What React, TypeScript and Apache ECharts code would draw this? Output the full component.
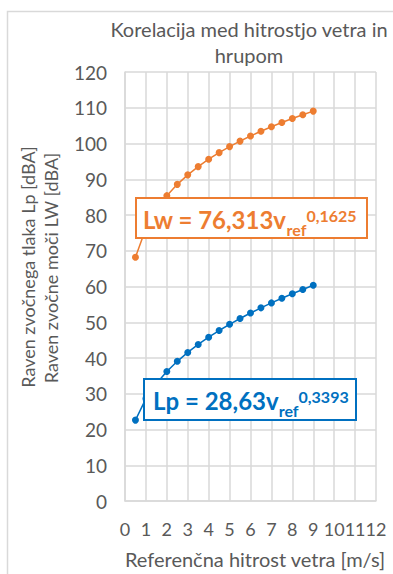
import React, { useEffect, useRef } from "react";
import * as echarts from "echarts";

// Reference wind speed [m/s]
const windSpeed = [0.5, 1, 1.5, 2, 2.5, 3, 3.5, 4, 4.5, 5, 5.5, 6, 6.5, 7, 7.5, 8, 8.5, 9];
// Sound power level Lw [dBA]
const soundPower = [
  68.18, 76.31, 81.51, 85.41, 88.57, 91.23, 93.54, 95.6, 97.44, 99.13, 100.67, 102.11,
  103.44, 104.7, 105.88, 106.99, 108.05, 109.06,
];
// Sound pressure level Lp [dBA]
const soundPressure = [
  22.63, 28.63, 32.85, 36.22, 39.07, 41.56, 43.79, 45.82, 47.69, 49.43, 51.05, 52.58,
  54.03, 55.41, 56.72, 57.98, 59.18, 60.34,
];

const titleText = "Korelacija med hitrostjo vetra in\nhrupom";
const xAxisTitle = "Referenčna hitrost vetra [m/s]";
const yAxisTitles = ["Raven zvočnega tlaka Lp [dBA]", "Raven zvočne moči LW [dBA]"];
const lwFormula = { main: "Lw = 76,313v", sub: "ref", sup: "0,1625" };
const lpFormula = { main: "Lp = 28,63v", sub: "ref", sup: "0,3393" };

const ORANGE = "#ED7D31";
const BLUE = "#0070C0";
const TEXT = "#595959";
const GRID = "#d9d9d9";
const FONT = "Lato, 'Open Sans', sans-serif";

function measure(text: string, font: string): number {
  const c = document.createElement("canvas").getContext("2d");
  if (!c) return text.length * 10;
  c.font = font;
  return c.measureText(text).width;
}

// Trendline equation label: framed box with subscript and superscript parts
function formulaBox(
  f: { main: string; sub: string; sup: string },
  color: string,
  box: { x: number; y: number; w: number; h: number },
  textX: number,
  mainY: number,
  subY: number,
  supY: number,
  supGap: number
) {
  const mainSize = 24;
  const smallSize = 16;
  const mainW = measure(f.main, `bold ${mainSize}px Lato`);
  const subW = measure(f.sub, `bold ${smallSize}px Lato`);
  const Z = 100;
  return [
    {
      type: "rect",
      z: Z,
      shape: { x: box.x, y: box.y, width: box.w, height: box.h },
      style: { fill: "#ffffff", stroke: color, lineWidth: 2 },
    },
    {
      type: "text",
      z: Z + 1,
      x: textX,
      y: mainY,
      style: {
        text: f.main,
        fill: color,
        font: `bold ${mainSize}px ${FONT}`,
        align: "left",
        verticalAlign: "middle",
      },
    },
    {
      type: "text",
      z: Z + 1,
      x: textX + mainW,
      y: subY,
      style: {
        text: f.sub,
        fill: color,
        font: `bold ${smallSize}px ${FONT}`,
        align: "left",
        verticalAlign: "middle",
      },
    },
    {
      type: "text",
      z: Z + 1,
      x: textX + mainW + subW + supGap,
      y: supY,
      style: {
        text: f.sup,
        fill: color,
        font: `bold ${smallSize}px ${FONT}`,
        align: "left",
        verticalAlign: "middle",
      },
    },
  ];
}

export default function App() {
  const ref = useRef<HTMLDivElement>(null);

  useEffect(() => {
    if (!ref.current) return;
    const chart = echarts.init(ref.current, undefined, { renderer: "svg" });

    const lwData = windSpeed.map((v, i) => [v, soundPower[i]]);
    const lpData = windSpeed.map((v, i) => [v, soundPressure[i]]);

    chart.setOption({
      animation: false,
      backgroundColor: "#ffffff",
      title: {
        text: titleText,
        left: 244,
        top: 11,
        textAlign: "center",
        textStyle: {
          color: TEXT,
          fontFamily: FONT,
          fontWeight: "normal",
          fontSize: 20,
          lineHeight: 26,
        },
      },
      grid: { left: 125, right: 17, top: 72, bottom: 67, containLabel: false },
      xAxis: {
        type: "value",
        min: 0,
        max: 12,
        interval: 1,
        name: xAxisTitle,
        nameLocation: "middle",
        nameGap: 48,
        nameTextStyle: {
          color: TEXT,
          fontFamily: FONT,
          fontSize: 20,
          padding: [0, 0, 0, 9],
        },
        axisLine: { show: true, lineStyle: { color: GRID, width: 1.5 } },
        axisTick: { show: false },
        axisLabel: {
          color: TEXT,
          fontFamily: FONT,
          fontSize: 18,
          margin: 19,
          interval: 0,
          hideOverlap: false,
        },
        splitLine: { show: true, lineStyle: { color: GRID, width: 1.5 } },
      },
      yAxis: {
        type: "value",
        min: 0,
        max: 120,
        interval: 10,
        axisLine: { show: true, lineStyle: { color: GRID, width: 1.5 } },
        axisTick: { show: false },
        axisLabel: {
          color: TEXT,
          fontFamily: FONT,
          fontSize: 19,
          margin: 18,
        },
        splitLine: { show: true, lineStyle: { color: GRID, width: 1.5 } },
      },
      series: [
        {
          name: "Lw",
          type: "line",
          data: lwData,
          symbol: "circle",
          symbolSize: 7,
          lineStyle: { color: ORANGE, width: 1.5 },
          itemStyle: { color: ORANGE },
          z: 3,
        },
        {
          name: "Lp",
          type: "line",
          data: lpData,
          symbol: "circle",
          symbolSize: 7,
          lineStyle: { color: BLUE, width: 1.5 },
          itemStyle: { color: BLUE },
          z: 3,
        },
      ],
      graphic: [
        {
          type: "rect",
          z: -10,
          silent: true,
          shape: { x: 7.5, y: 11.5, width: 420, height: 620 },
          style: { fill: "none", stroke: GRID, lineWidth: 1.5 },
        },
        {
          type: "text",
          x: 28,
          y: 267,
          rotation: Math.PI / 2,
          style: {
            text: yAxisTitles[0],
            fill: TEXT,
            font: `18px ${FONT}`,
            align: "center",
            verticalAlign: "middle",
          },
        },
        {
          type: "text",
          x: 51,
          y: 268,
          rotation: Math.PI / 2,
          style: {
            text: yAxisTitles[1],
            fill: TEXT,
            font: `18px ${FONT}`,
            align: "center",
            verticalAlign: "middle",
          },
        },
        ...formulaBox(lwFormula, ORANGE, { x: 136, y: 198, w: 231, h: 40 }, 143, 219, 229, 215, 0),
        ...formulaBox(lpFormula, BLUE, { x: 144, y: 379, w: 212, h: 41 }, 153, 400.5, 410, 396, 0),
      ],
    });

    return () => chart.dispose();
  }, []);

  return (
    <div
      ref={ref}
      style={{ position: "fixed", left: 0, top: 0, width: 393, height: 574 }}
    />
  );
}
